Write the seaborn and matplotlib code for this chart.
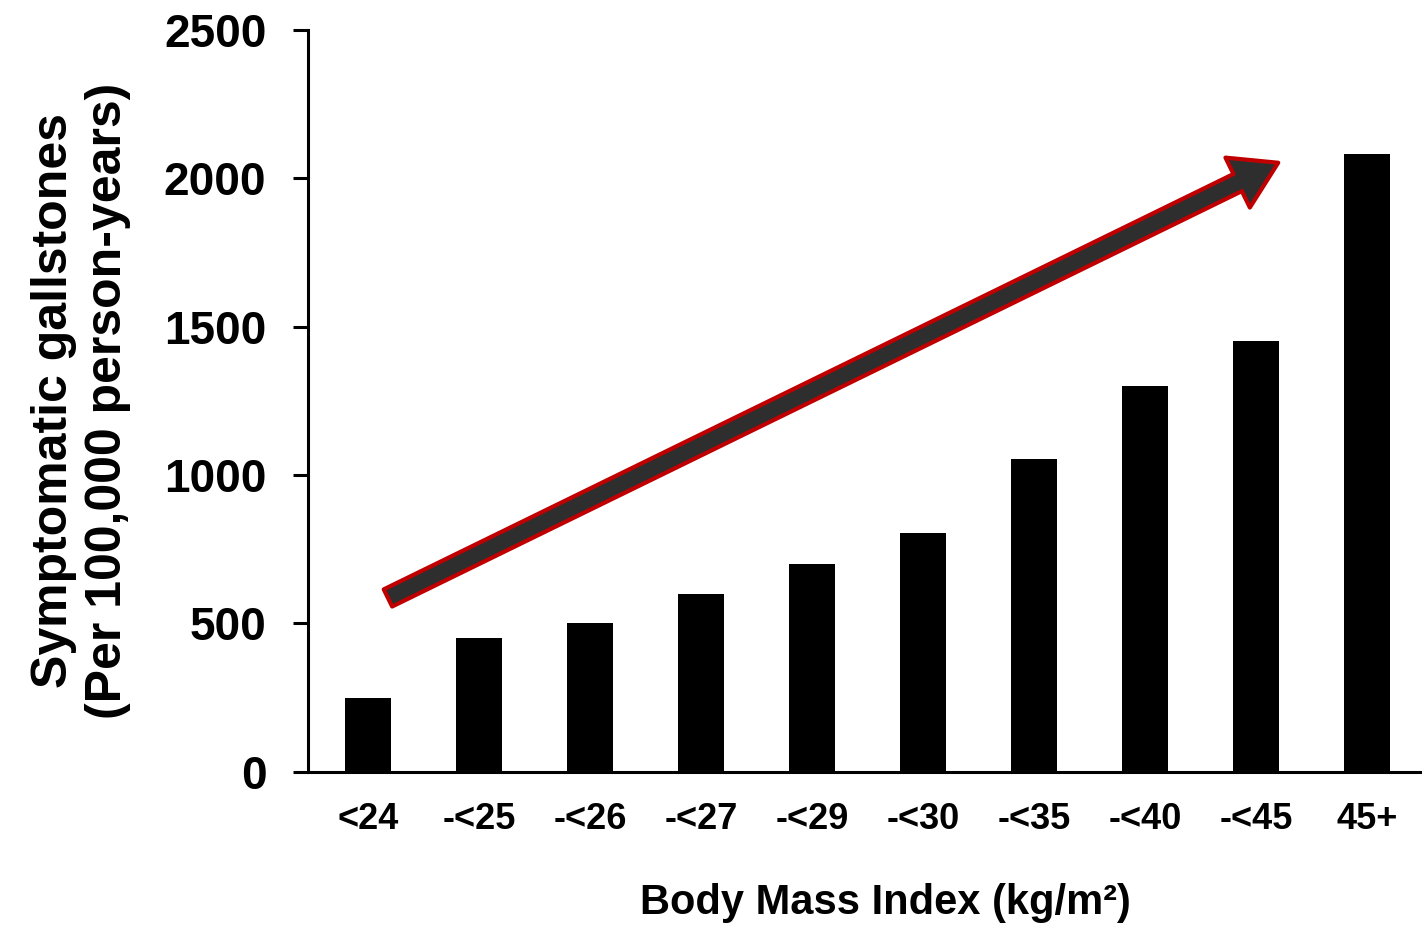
import matplotlib
matplotlib.use("Agg")
import matplotlib.pyplot as plt
import pandas as pd
import seaborn as sns

bmi_groups = ["<24", "-<25", "-<26", "-<27", "-<29", "-<30", "-<35", "-<40", "-<45", "45+"]
gallstone_rate = [250, 450, 500, 600, 700, 805, 1055, 1300, 1450, 2080]
y_ticks = [0, 500, 1000, 1500, 2000, 2500]

# trend arrow (category position, value)
ARROW_START = (0.18, 586)
ARROW_END = (8.2, 2052)

sns.set_theme(style="white")
plt.rcParams["font.family"] = ["Liberation Sans", "DejaVu Sans"]
plt.rcParams.update({"text.color": "black", "axes.labelcolor": "black",
                     "xtick.color": "black", "ytick.color": "black"})

df = pd.DataFrame({"bmi": bmi_groups, "rate": gallstone_rate})

fig = plt.figure(figsize=(14.26, 9.3), dpi=100)
ax = fig.add_axes([0.216, 0.170, 0.780, 0.798])

sns.barplot(data=df, x="bmi", y="rate", color="black", saturation=1,
            width=0.41, edgecolor="none", ax=ax)

ax.set_xlim(-0.54, 9.48)
ax.set_ylim(0, 2500)
ax.set_yticks(y_ticks)
ax.set_yticklabels([str(t) for t in y_ticks], fontsize=33, fontweight="bold")
ax.set_xticks(range(len(bmi_groups)))
ax.set_xticklabels(bmi_groups, fontsize=26, fontweight="bold")

ax.tick_params(axis="y", direction="out", length=11, width=2.2, pad=19, left=True)
ax.tick_params(axis="x", length=0, pad=22)

for side in ["top", "right"]:
    ax.spines[side].set_visible(False)
for side in ["left", "bottom"]:
    ax.spines[side].set_linewidth(2.2)
    ax.spines[side].set_color("black")

ax.set_xlabel("Body Mass Index (kg/m²)", fontsize=30, fontweight="bold", labelpad=36)
ax.xaxis.set_label_coords(0.519, -0.150)
ax.set_ylabel("Symptomatic gallstones\n(Per 100,000 person-years)", fontsize=36,
              fontweight="bold", labelpad=24, linespacing=1.22)

ax.annotate("", xy=ARROW_END, xytext=ARROW_START,
            arrowprops=dict(arrowstyle="simple,head_length=1.3,head_width=1.6,tail_width=0.55",
                            fc="#2e2e2e", ec="#c00000", lw=3,
                            mutation_scale=25, shrinkA=0, shrinkB=0))

fig.savefig("out.png", dpi=100)
